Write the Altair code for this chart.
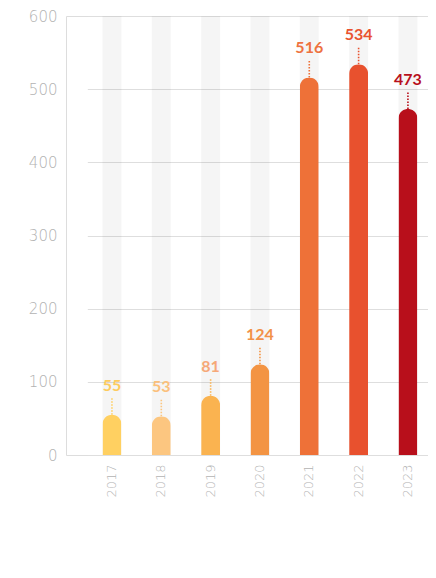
import altair as alt
import pandas as pd

years = ["2017", "2018", "2019", "2020", "2021", "2022", "2023"]
values = [55, 53, 81, 124, 516, 534, 473]
bar_colors = ["#FFD061", "#FCC680", "#FAB350", "#F39443", "#EE7138", "#E8512E", "#B80F1B"]
label_colors = ["#FDCB5E", "#FBC07C", "#F6A878", "#F29148", "#EE7240", "#E9532F", "#B8101C"]
y_ticks = [0, 100, 200, 300, 400, 500, 600]
y_max = 600

df = pd.DataFrame({"year": years, "value": values, "color": bar_colors, "lcolor": label_colors})

W, H = 362, 439
AXFONT = "DejaVu Sans"
FONT = "Lato"
AXCOLOR = "#b2b2b2"

x = alt.X("year:N", sort=years, title=None,
          scale=alt.Scale(range=[21.3, 366.6], paddingInner=0, paddingOuter=0),
          axis=alt.Axis(labelAngle=270, labelColor=AXCOLOR, labelFontSize=13, labelFont=AXFONT,
                        labelFontWeight=200, ticks=False, domain=False, labelPadding=9, grid=False))
y_scale = alt.Scale(domain=[0, y_max], nice=False)
y_axis = alt.Axis(values=y_ticks, labelColor=AXCOLOR, labelFontSize=15, labelFont=AXFONT,
                  labelFontWeight=200, ticks=False, domain=False, gridColor="#dedede", gridWidth=1,
                  labelPadding=9, minExtent=58, maxExtent=58)

base = alt.Chart(df)

bg = base.mark_bar(size=19, color="#000000", opacity=0.04).encode(
    x=x, y=alt.Y("value:Q", scale=y_scale, axis=y_axis, title=None),
).transform_calculate(value=str(y_max))

bars = base.mark_bar(size=19, cornerRadiusTopLeft=9.5, cornerRadiusTopRight=9.5).encode(
    x=x, y=alt.Y("value:Q", scale=y_scale), color=alt.Color("color:N", scale=None)
)

stems = base.mark_rule(strokeWidth=1.6, strokeDash=[1.5, 1.5], y2Offset=-17).encode(
    x=x, y=alt.Y("value:Q", scale=y_scale), y2="value:Q", color=alt.Color("color:N", scale=None)
)

labels = base.mark_text(font=FONT, fontWeight="bold", fontSize=16, baseline="alphabetic", dy=-24).encode(
    x=x, y=alt.Y("value:Q", scale=y_scale), text="value:Q", color=alt.Color("lcolor:N", scale=None)
)

chart = alt.layer(bg, bars, stems, labels).properties(
    width=W, height=H, padding={"left": 0, "top": 1, "right": 0, "bottom": 5}
).configure_view(stroke=None).configure(background="white")

chart.save("out.html", embed_options={"renderer": "svg", "actions": False})
